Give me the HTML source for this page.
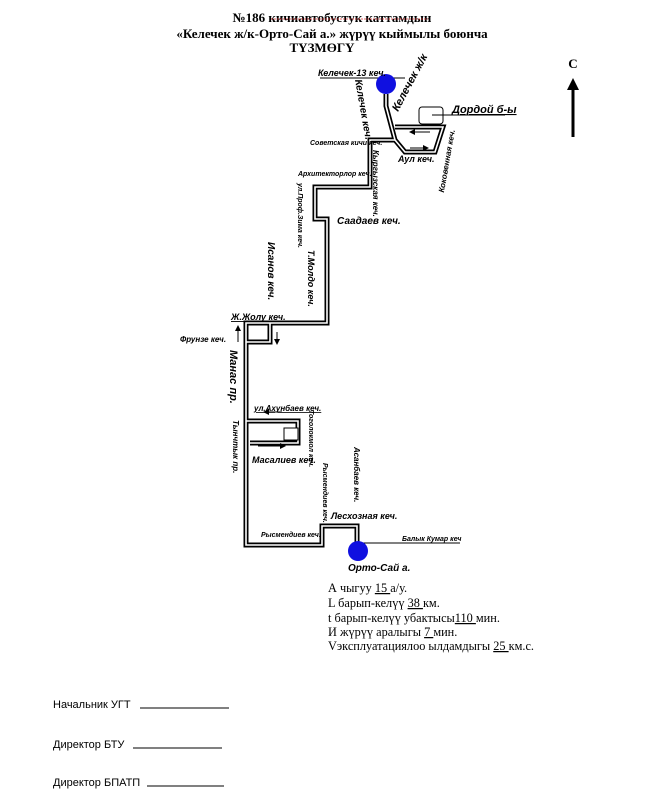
<!DOCTYPE html>
<html><head><meta charset="utf-8">
<style>
html,body{margin:0;padding:0;background:#fff;}
svg{display:block;}
.t{font-family:"Liberation Sans",sans-serif;font-style:italic;font-weight:bold;fill:#000;}
.s{font-family:"Liberation Serif",serif;fill:#000;}
.n{font-family:"Liberation Sans",sans-serif;fill:#000;}
</style></head><body>
<svg width="664" height="812" viewBox="0 0 664 812" xmlns="http://www.w3.org/2000/svg">
<defs>
<marker id="ah" markerWidth="6" markerHeight="6" refX="5" refY="3" orient="auto"><path d="M0,0 L6,3 L0,6 z" fill="#000"/></marker>
</defs>
<!-- Header -->
<text class="s" x="332" y="22" font-size="13" font-weight="bold" text-anchor="middle">№186 кичиавтобустук каттамдын</text>
<text class="s" x="332" y="38" font-size="13" font-weight="bold" text-anchor="middle">«Келечек ж/к-Орто-Сай  а.» жүрүү кыймылы  боюнча</text>
<text class="s" x="322" y="52" font-size="13" font-weight="bold" text-anchor="middle">ТҮЗМӨГҮ</text>
<path d="M271,19 H428" stroke="#d33" stroke-width="0.7" stroke-dasharray="2,1"/>

<!-- Compass -->
<text class="s" x="573" y="68" font-size="13" font-weight="bold" text-anchor="middle">С</text>
<line x1="573" y1="137" x2="573" y2="88" stroke="#000" stroke-width="3"/>
<path d="M567,90 L573,78 L579,90 z" fill="#000"/>

<!-- Route double lines -->
<g fill="none" stroke-linejoin="miter">
<g stroke="#000" stroke-width="5">
<polyline points="386,94 386,106 395,140 405,152 435,152 443,127 395,127"/>
<polyline points="395,140 370,140 370,187 315,187 315,219 327,219 327,323 246,323 246,545 322,545 322,526 357,526 357,543"/>
<polyline points="246,342 270,342 270,323"/>
<polyline points="246,421 298,421 298,443 250,443"/>
</g>
<g stroke="#fff" stroke-width="1.6">
<polyline points="386,94 386,106 395,140 405,152 435,152 443,127 395,127"/>
<polyline points="395,140 370,140 370,187 315,187 315,219 327,219 327,323 246,323 246,545 322,545 322,526 357,526 357,543"/>
<polyline points="246,342 270,342 270,323"/>
<polyline points="246,421 298,421 298,443 250,443"/>
</g>
</g>
<rect x="284" y="428" width="14" height="12" fill="#fff" stroke="#000" stroke-width="1"/>
<rect x="419" y="107" width="24" height="17" rx="3" fill="#fff" stroke="#000" stroke-width="1"/>
<line x1="432" y1="115" x2="505" y2="115" stroke="#000" stroke-width="1"/>

<!-- thin lines -->
<line x1="320" y1="78" x2="405" y2="78" stroke="#000" stroke-width="1"/>
<line x1="357" y1="543" x2="460" y2="543" stroke="#000" stroke-width="1"/>

<!-- small arrows -->
<line x1="430" y1="132" x2="410" y2="132" stroke="#000" stroke-width="1" marker-end="url(#ah)"/>
<line x1="410" y1="148" x2="428" y2="148" stroke="#000" stroke-width="1" marker-end="url(#ah)"/>
<line x1="238" y1="342" x2="238" y2="326" stroke="#000" stroke-width="1" marker-end="url(#ah)"/>
<line x1="277" y1="332" x2="277" y2="344" stroke="#000" stroke-width="1" marker-end="url(#ah)"/>
<line x1="282" y1="412" x2="264" y2="412" stroke="#000" stroke-width="1" marker-end="url(#ah)"/>
<line x1="258" y1="446" x2="285" y2="446" stroke="#000" stroke-width="1" marker-end="url(#ah)"/>

<!-- stops -->
<circle cx="386" cy="84" r="10" fill="#1010e0"/>
<circle cx="358" cy="551" r="10" fill="#1010e0"/>

<!-- horizontal labels -->
<text class="t" x="318" y="76" font-size="9">Келечек-13 кеч.</text>
<text class="t" x="452" y="113" font-size="11" text-decoration="underline">Дордой б-ы</text>
<text class="t" x="398" y="162" font-size="9">Аул кеч.</text>
<text class="t" x="310" y="145" font-size="7">Советская кичи кеч.</text>
<text class="t" x="298" y="176" font-size="7">Архитекторлор кеч.</text>
<text class="t" x="337" y="224" font-size="10">Саадаев кеч.</text>
<text class="t" x="231" y="320" font-size="9" text-decoration="underline">Ж.Жолу кеч.</text>
<text class="t" x="180" y="342" font-size="8">Фрунзе кеч.</text>
<text class="t" x="254" y="411" font-size="8" text-decoration="underline">ул.Ахунбаев кеч.</text>
<text class="t" x="252" y="463" font-size="9">Масалиев кеч.</text>
<text class="t" x="261" y="537" font-size="7">Рысмендиев кеч.</text>
<text class="t" x="331" y="519" font-size="9">Лесхозная кеч.</text>
<text class="t" x="402" y="541" font-size="7">Балык Кумар кеч</text>
<text class="t" x="348" y="571" font-size="10">Орто-Сай а.</text>

<!-- rotated labels -->
<text class="t" font-size="11" transform="translate(398,112) rotate(-62)">Келечек ж/к</text>
<text class="t" font-size="10" transform="translate(355,80) rotate(80)">Келечек кеч.</text>
<text class="t" font-size="8" transform="translate(373,150) rotate(90)">Кыргызская кеч.</text>
<text class="t" font-size="8" transform="translate(455,130) rotate(-80)" text-anchor="end">Коковенная кеч.</text>
<text class="t" font-size="7" transform="translate(298,183) rotate(90)">ул.Проф.Зима кеч.</text>
<text class="t" font-size="9" transform="translate(308,250) rotate(90)">Т.Молдо кеч.</text>
<text class="t" font-size="10" transform="translate(268,242) rotate(90)">Исанов кеч.</text>
<text class="t" font-size="11" transform="translate(230,350) rotate(90)">Манас пр.</text>
<text class="t" font-size="8" transform="translate(233,420) rotate(90)">Тынчтык пр.</text>
<text class="t" font-size="7" transform="translate(309,410) rotate(90)">Тоголокмол кеч.</text>
<text class="t" font-size="7" transform="translate(323,463) rotate(90)">Рысмендиев кеч.</text>
<text class="t" font-size="8" transform="translate(354,447) rotate(90)">Асанбаев кеч.</text>

<!-- info -->
<g class="s" font-size="12.3">
<text x="328" y="592">А чыгуу   <tspan text-decoration="underline"> 15 </tspan>а/у.</text>
<text x="328" y="607">L барып-келүү  <tspan text-decoration="underline"> 38 </tspan>км.</text>
<text x="328" y="622">t барып-келүү  убактысы<tspan text-decoration="underline">110   </tspan>мин.</text>
<text x="328" y="636">И жүрүү аралыгы <tspan text-decoration="underline"> 7  </tspan>  мин.</text>
<text x="328" y="650">Vэксплуатациялоо   ылдамдыгы  <tspan text-decoration="underline"> 25 </tspan>км.с.</text>
</g>

<!-- signatures -->
<g class="n" font-size="11">
<text x="53" y="708">Начальник УГТ</text>
<text x="53" y="748">Директор  БТУ</text>
<text x="53" y="786">Директор БПАТП</text>
</g>
<line x1="140" y1="708" x2="229" y2="708" stroke="#000" stroke-width="1"/>
<line x1="133" y1="748" x2="222" y2="748" stroke="#000" stroke-width="1"/>
<line x1="147" y1="786" x2="224" y2="786" stroke="#000" stroke-width="1"/>
</svg>
</body></html>
